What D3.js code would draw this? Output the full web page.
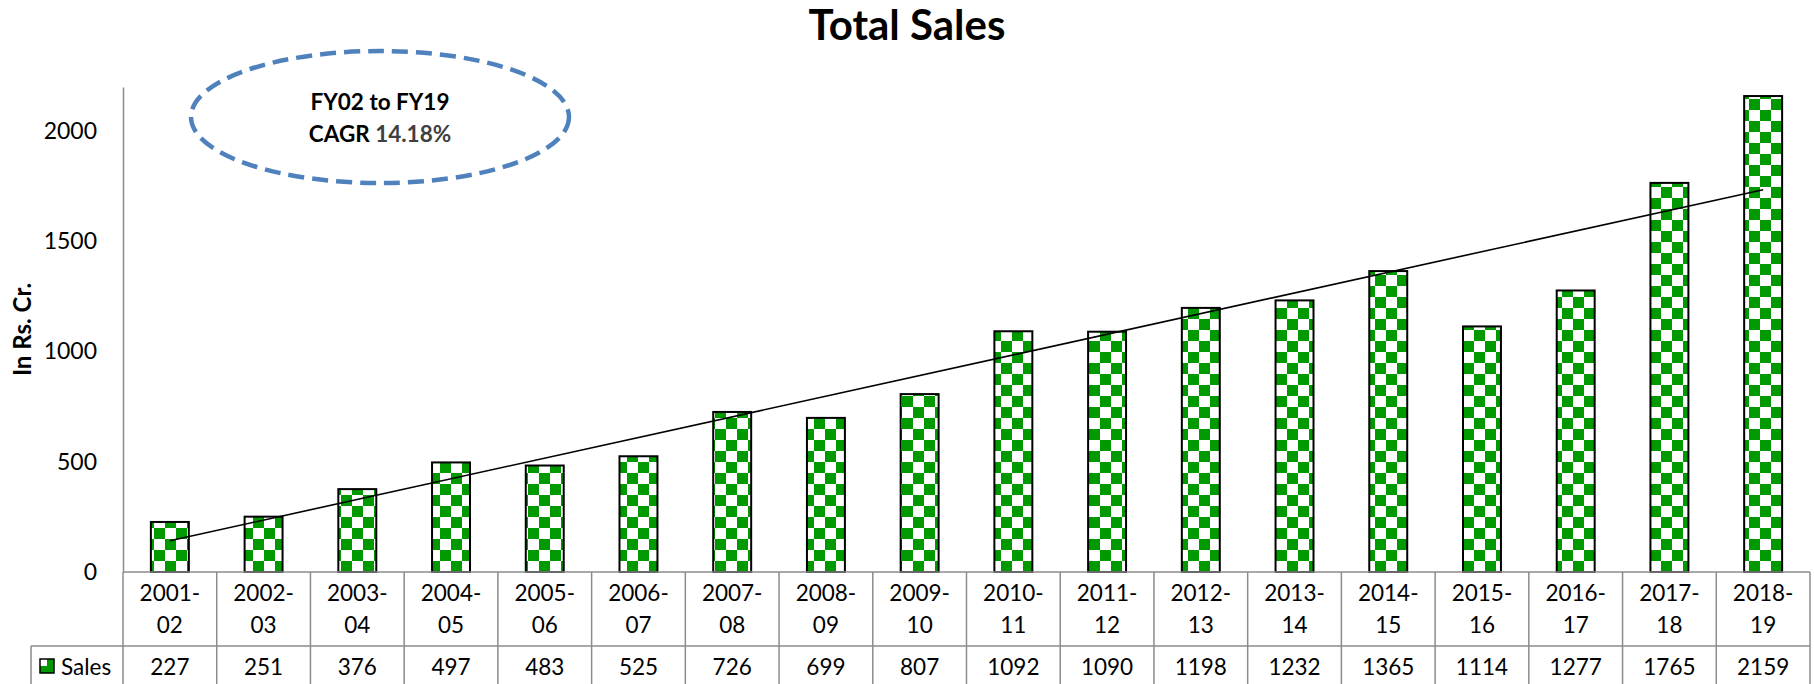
<!DOCTYPE html>
<html>
<head>
<meta charset="utf-8">
<script src="https://cdn.jsdelivr.net/npm/d3@7"></script>
<style>
  html, body { margin: 0; padding: 0; background: #fff; }
  svg { display: block; font-family: Lato, "Open Sans", sans-serif; }
</style>
</head>
<body>
<svg id="chart" width="1814" height="684"></svg>
<script>
// Fiscal years and total sales (Rs. Cr.)
const categories = ["2001-02", "2002-03", "2003-04", "2004-05", "2005-06", "2006-07",
  "2007-08", "2008-09", "2009-10", "2010-11", "2011-12", "2012-13",
  "2013-14", "2014-15", "2015-16", "2016-17", "2017-18", "2018-19"];
const sales = [227, 251, 376, 497, 483, 525, 726, 699, 807, 1092, 1090, 1198,
  1232, 1365, 1114, 1277, 1765, 2159];
const yTicks = [0, 500, 1000, 1500, 2000];
const seriesName = "Sales";
const titleText = "Total Sales";
const yTitle = "In Rs. Cr.";
const noteLines = ["FY02 to FY19", "CAGR", "14.18%"];

const W = 1814, H = 684;
const plot = { left: 123, right: 1810, top: 87, bottom: 572 };
const table = { catBottom: 646, bottom: 690, legendLeft: 31 };
const green = "#009a00";
const gridGrey = "#8c8c8c";

const svg = d3.select("#chart");
const defs = svg.append("defs");

// Checkerboard fill used for the bars
const pat = defs.append("pattern").attr("id", "checker")
  .attr("patternUnits", "userSpaceOnUse").attr("width", 22).attr("height", 22);
pat.append("rect").attr("width", 22).attr("height", 22).attr("fill", "#fff");
pat.append("rect").attr("x", 0).attr("y", 0).attr("width", 11).attr("height", 11).attr("fill", green);
pat.append("rect").attr("x", 11).attr("y", 11).attr("width", 11).attr("height", 11).attr("fill", green);

// Smaller checker for the legend key
const patS = defs.append("pattern").attr("id", "checkerSmall")
  .attr("patternUnits", "userSpaceOnUse").attr("width", 14).attr("height", 14)
  .attr("x", 40).attr("y", 659);
patS.append("rect").attr("width", 14).attr("height", 14).attr("fill", green);
patS.append("rect").attr("width", 7).attr("height", 7).attr("fill", "#fff");

const x = d3.scaleBand().domain(categories).range([plot.left, plot.right]).padding(0);
const y = d3.scaleLinear().domain([0, 2200]).range([plot.bottom, plot.top]);

// Title
svg.append("text")
  .attr("x", W / 2).attr("y", 40)
  .attr("text-anchor", "middle")
  .attr("font-size", 42).attr("font-weight", 700)
  .text(titleText);

// Y axis
const yAxis = svg.append("g")
  .attr("transform", `translate(${plot.left},0)`)
  .call(d3.axisLeft(y).tickValues(yTicks).tickFormat(d3.format("d"))
    .tickSize(0).tickSizeOuter(0).tickPadding(26));
yAxis.select(".domain").attr("stroke", gridGrey).attr("stroke-width", 1.5);
yAxis.selectAll("text").attr("font-size", 23).attr("fill", "#000")
  .attr("font-family", "Lato, 'Open Sans', sans-serif");

// Y axis title
svg.append("text")
  .attr("transform", `translate(21,${(plot.top + plot.bottom) / 2}) rotate(-90)`)
  .attr("text-anchor", "middle").attr("dominant-baseline", "central")
  .attr("font-size", 24).attr("font-weight", 700)
  .text(yTitle);

// Bars
const barW = x.bandwidth() * 0.405;
svg.append("g").selectAll("rect")
  .data(sales)
  .join("rect")
  .attr("x", (d, i) => x(categories[i]) + (x.bandwidth() - barW) / 2)
  .attr("y", d => y(d))
  .attr("width", barW)
  .attr("height", d => y(0) - y(d))
  .attr("fill", "url(#checker)")
  .attr("stroke", "#000")
  .attr("stroke-width", 2);

// Linear trend line (least squares over the series)
const n = sales.length;
const xs = d3.range(1, n + 1);
const mx = d3.mean(xs), my = d3.mean(sales);
const slope = d3.sum(xs, (v, i) => (v - mx) * (sales[i] - my)) / d3.sum(xs, v => (v - mx) ** 2);
const icpt = my - slope * mx;
const trend = [1, n].map(k => ({ cat: categories[k - 1], v: icpt + slope * k }));
svg.append("path")
  .datum(trend)
  .attr("fill", "none").attr("stroke", "#000").attr("stroke-width", 1.6)
  .attr("d", d3.line().x(d => x(d.cat) + x.bandwidth() / 2).y(d => y(d.v)));

// Data table
const tg = svg.append("g").attr("stroke", gridGrey).attr("stroke-width", 1.5);
tg.append("line").attr("x1", plot.left).attr("x2", plot.right).attr("y1", plot.bottom).attr("y2", plot.bottom);
tg.append("line").attr("x1", table.legendLeft).attr("x2", plot.right).attr("y1", table.catBottom).attr("y2", table.catBottom);
tg.append("line").attr("x1", plot.left).attr("x2", plot.left).attr("y1", plot.bottom).attr("y2", table.bottom);
tg.append("line").attr("x1", table.legendLeft).attr("x2", table.legendLeft).attr("y1", table.catBottom).attr("y2", table.bottom);
tg.selectAll("line.sep")
  .data(categories)
  .join("line").attr("class", "sep")
  .attr("x1", d => x(d) + x.bandwidth()).attr("x2", d => x(d) + x.bandwidth())
  .attr("y1", plot.bottom).attr("y2", table.bottom);

// Category labels (two lines each)
const catG = svg.append("g").attr("font-size", 22.5).attr("text-anchor", "middle");
catG.selectAll("text")
  .data(categories)
  .join("text")
  .attr("x", d => x(d) + x.bandwidth() / 2)
  .each(function (d) {
    const cut = d.indexOf("-") + 1;
    const t = d3.select(this);
    t.append("tspan").attr("x", x(d) + x.bandwidth() / 2).attr("y", 601).text(d.slice(0, cut));
    t.append("tspan").attr("x", x(d) + x.bandwidth() / 2).attr("y", 633).text(d.slice(cut));
  });

// Value row
svg.append("g").attr("font-size", 22.5).attr("text-anchor", "middle")
  .selectAll("text")
  .data(sales)
  .join("text")
  .attr("x", (d, i) => x(categories[i]) + x.bandwidth() / 2)
  .attr("y", 675)
  .text(d => d);

// Legend key in the table
svg.append("rect")
  .attr("x", 40).attr("y", 659).attr("width", 14).attr("height", 14)
  .attr("fill", "url(#checkerSmall)").attr("stroke", "#000").attr("stroke-width", 1.5);
svg.append("text")
  .attr("x", 61).attr("y", 675)
  .attr("font-size", 22.5)
  .text(seriesName);

// CAGR note in a dashed ellipse
const note = { cx: 380, cy: 117, rx: 189, ry: 66 };
svg.append("ellipse")
  .attr("cx", note.cx).attr("cy", note.cy).attr("rx", note.rx).attr("ry", note.ry)
  .attr("fill", "none").attr("stroke", "#4f81bd").attr("stroke-width", 4.5)
  .attr("stroke-dasharray", "16,8");
svg.append("text")
  .attr("x", note.cx).attr("y", 110).attr("text-anchor", "middle")
  .attr("font-size", 22.5).attr("font-weight", 700)
  .text(noteLines[0]);
const l2 = svg.append("text")
  .attr("x", note.cx).attr("y", 142).attr("text-anchor", "middle")
  .attr("font-size", 22.5).attr("font-weight", 700);
l2.append("tspan").attr("fill", "#000").text(noteLines[1] + " ");
l2.append("tspan").attr("fill", "#404040").text(noteLines[2]);
</script>
</body>
</html>
